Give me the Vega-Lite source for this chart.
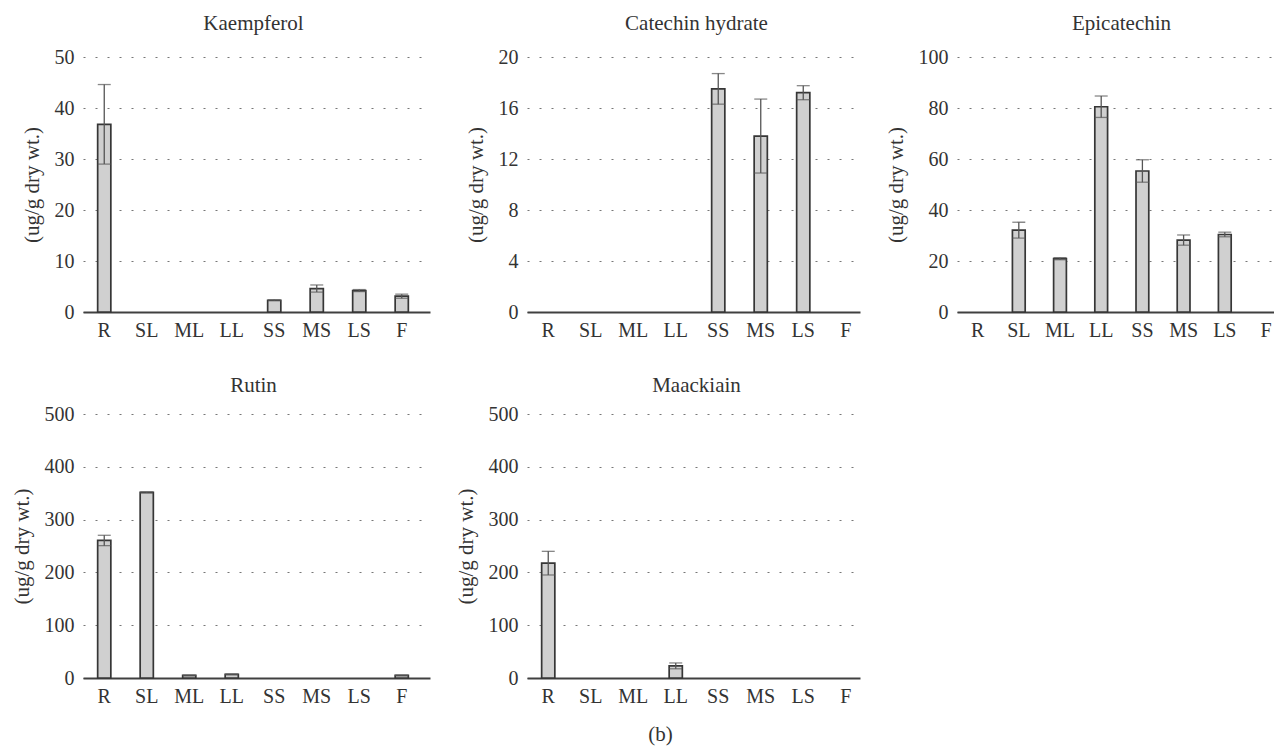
{
  "$schema": "https://vega.github.io/schema/vega-lite/v6.json",
  "autosize": {"type": "none"},
  "padding": {"left": 83, "top": 57, "right": 1191, "bottom": 690},
  "background": "white",
  "datasets": {
    "d": [
      {"compound": "Kaempferol", "tissue": "R", "value": 36.8, "err": 7.8},
      {"compound": "Kaempferol", "tissue": "SL", "value": 0, "err": 0},
      {"compound": "Kaempferol", "tissue": "ML", "value": 0, "err": 0},
      {"compound": "Kaempferol", "tissue": "LL", "value": 0, "err": 0},
      {"compound": "Kaempferol", "tissue": "SS", "value": 2.3, "err": 0.1},
      {"compound": "Kaempferol", "tissue": "MS", "value": 4.6, "err": 0.7},
      {"compound": "Kaempferol", "tissue": "LS", "value": 4.2, "err": 0.2},
      {"compound": "Kaempferol", "tissue": "F", "value": 3.1, "err": 0.4},
      {"compound": "Catechin hydrate", "tissue": "R", "value": 0, "err": 0},
      {"compound": "Catechin hydrate", "tissue": "SL", "value": 0, "err": 0},
      {"compound": "Catechin hydrate", "tissue": "ML", "value": 0, "err": 0},
      {"compound": "Catechin hydrate", "tissue": "LL", "value": 0, "err": 0},
      {"compound": "Catechin hydrate", "tissue": "SS", "value": 17.5, "err": 1.2},
      {"compound": "Catechin hydrate", "tissue": "MS", "value": 13.8, "err": 2.9},
      {"compound": "Catechin hydrate", "tissue": "LS", "value": 17.2, "err": 0.55},
      {"compound": "Catechin hydrate", "tissue": "F", "value": 0, "err": 0},
      {"compound": "Epicatechin", "tissue": "R", "value": 0, "err": 0},
      {"compound": "Epicatechin", "tissue": "SL", "value": 32.1, "err": 3.1},
      {"compound": "Epicatechin", "tissue": "ML", "value": 20.9, "err": 0.4},
      {"compound": "Epicatechin", "tissue": "LL", "value": 80.5, "err": 4.2},
      {"compound": "Epicatechin", "tissue": "SS", "value": 55.3, "err": 4.4},
      {"compound": "Epicatechin", "tissue": "MS", "value": 28.2, "err": 2.0},
      {"compound": "Epicatechin", "tissue": "LS", "value": 30.4, "err": 0.9},
      {"compound": "Epicatechin", "tissue": "F", "value": 0, "err": 0},
      {"compound": "Rutin", "tissue": "R", "value": 260.5, "err": 9.8},
      {"compound": "Rutin", "tissue": "SL", "value": 351.5, "err": 1},
      {"compound": "Rutin", "tissue": "ML", "value": 5, "err": 0.5},
      {"compound": "Rutin", "tissue": "LL", "value": 7, "err": 0.5},
      {"compound": "Rutin", "tissue": "SS", "value": 0, "err": 0},
      {"compound": "Rutin", "tissue": "MS", "value": 0, "err": 0},
      {"compound": "Rutin", "tissue": "LS", "value": 0, "err": 0},
      {"compound": "Rutin", "tissue": "F", "value": 5, "err": 0.5},
      {"compound": "Maackiain", "tissue": "R", "value": 217.5, "err": 22.4},
      {"compound": "Maackiain", "tissue": "SL", "value": 0, "err": 0},
      {"compound": "Maackiain", "tissue": "ML", "value": 0, "err": 0},
      {"compound": "Maackiain", "tissue": "LL", "value": 23, "err": 5.5},
      {"compound": "Maackiain", "tissue": "SS", "value": 0, "err": 0},
      {"compound": "Maackiain", "tissue": "MS", "value": 0, "err": 0},
      {"compound": "Maackiain", "tissue": "LS", "value": 0, "err": 0},
      {"compound": "Maackiain", "tissue": "F", "value": 0, "err": 0}
    ]
  },
  "columns": 3,
  "align": "none",
  "bounds": "flush",
  "spacing": {"row": 102, "column": 97},
  "concat": [
    {
      "title": {"text": "Kaempferol", "offset": 13, "dx": -3},
      "width": 347, "height": 255,
      "data": {"name": "d"},
      "transform": [{"filter": "datum.compound == 'Kaempferol'"}],
      "encoding": {
        "x": {"field": "tissue", "type": "nominal", "title": null,
              "scale": {"domain": ["R","SL","ML","LL","SS","MS","LS","F"], "paddingInner": 0.69, "paddingOuter": 0.4274, "align": 0.4036}}
      },
      "layer": [
        {"transform": [{"filter": "datum.value > 0"}],
         "mark": {"type": "bar", "fill": "#d0d0d0", "stroke": "#363636", "strokeWidth": 1.7},
         "encoding": {"y": {"field": "value", "type": "quantitative", "title": "(ug/g dry wt.)", "scale": {"domain": [0, 50]}, "axis": {"values": [0,10,20,30,40,50], "labelFont": "Liberation Serif", "titleFont": "Liberation Serif"}}}},
        {"transform": [{"filter": "datum.err > 0"}],
         "mark": {"type": "errorbar", "ticks": {"size": 13, "thickness": 1.3}, "color": "#555555", "thickness": 1.3},
         "encoding": {"y": {"field": "value", "type": "quantitative", "title": "(ug/g dry wt.)"}, "yError": {"field": "err"}}}
      ]
    },
    {
      "title": {"text": "Catechin hydrate", "offset": 13, "dx": 3},
      "width": 333, "height": 255,
      "data": {"name": "d"},
      "transform": [{"filter": "datum.compound == 'Catechin hydrate'"}],
      "encoding": {
        "x": {"field": "tissue", "type": "nominal", "title": null,
              "scale": {"domain": ["R","SL","ML","LL","SS","MS","LS","F"], "paddingInner": 0.69, "paddingOuter": 0.2626, "align": 0.6567}}
      },
      "layer": [
        {"transform": [{"filter": "datum.value > 0"}],
         "mark": {"type": "bar", "fill": "#d0d0d0", "stroke": "#363636", "strokeWidth": 1.7},
         "encoding": {"y": {"field": "value", "type": "quantitative", "title": "(ug/g dry wt.)", "scale": {"domain": [0, 20]}, "axis": {"values": [0,4,8,12,16,20], "labelFont": "Liberation Serif", "titleFont": "Liberation Serif"}}}},
        {"transform": [{"filter": "datum.err > 0"}],
         "mark": {"type": "errorbar", "ticks": {"size": 13, "thickness": 1.3}, "color": "#555555", "thickness": 1.3},
         "encoding": {"y": {"field": "value", "type": "quantitative", "title": "(ug/g dry wt.)"}, "yError": {"field": "err"}}}
      ]
    },
    {
      "title": {"text": "Epicatechin", "offset": 13, "dx": 6},
      "width": 317, "height": 255,
      "data": {"name": "d"},
      "transform": [{"filter": "datum.compound == 'Epicatechin'"}],
      "encoding": {
        "x": {"field": "tissue", "type": "nominal", "title": null,
              "scale": {"domain": ["R","SL","ML","LL","SS","MS","LS","F"], "paddingInner": 0.69, "paddingOuter": 0.1921, "align": 0.898}}
      },
      "layer": [
        {"transform": [{"filter": "datum.value > 0"}],
         "mark": {"type": "bar", "fill": "#d0d0d0", "stroke": "#363636", "strokeWidth": 1.7},
         "encoding": {"y": {"field": "value", "type": "quantitative", "title": "(ug/g dry wt.)", "scale": {"domain": [0, 100]}, "axis": {"values": [0,20,40,60,80,100], "labelFont": "Liberation Serif", "titleFont": "Liberation Serif"}}}},
        {"transform": [{"filter": "datum.err > 0"}],
         "mark": {"type": "errorbar", "ticks": {"size": 13, "thickness": 1.3}, "color": "#555555", "thickness": 1.3},
         "encoding": {"y": {"field": "value", "type": "quantitative", "title": "(ug/g dry wt.)"}, "yError": {"field": "err"}}}
      ]
    },
    {
      "title": {"text": "Rutin", "offset": 8, "dx": -3},
      "width": 347, "height": 264,
      "data": {"name": "d"},
      "transform": [{"filter": "datum.compound == 'Rutin'"}],
      "encoding": {
        "x": {"field": "tissue", "type": "nominal", "title": null,
              "scale": {"domain": ["R","SL","ML","LL","SS","MS","LS","F"], "paddingInner": 0.69, "paddingOuter": 0.4274, "align": 0.4036}}
      },
      "layer": [
        {"transform": [{"filter": "datum.value > 0"}],
         "mark": {"type": "bar", "fill": "#d0d0d0", "stroke": "#363636", "strokeWidth": 1.7},
         "encoding": {"y": {"field": "value", "type": "quantitative", "title": "(ug/g dry wt.)", "scale": {"domain": [0, 500]}, "axis": {"values": [0,100,200,300,400,500], "labelFont": "Liberation Serif", "titleFont": "Liberation Serif"}}}},
        {"transform": [{"filter": "datum.err > 0"}],
         "mark": {"type": "errorbar", "ticks": {"size": 13, "thickness": 1.3}, "color": "#555555", "thickness": 1.3},
         "encoding": {"y": {"field": "value", "type": "quantitative", "title": "(ug/g dry wt.)"}, "yError": {"field": "err"}}}
      ]
    },
    {
      "title": {"text": "Maackiain", "offset": 8, "dx": 3},
      "width": 333, "height": 264,
      "data": {"name": "d"},
      "transform": [{"filter": "datum.compound == 'Maackiain'"}],
      "encoding": {
        "x": {"field": "tissue", "type": "nominal", "title": "(b)",
              "scale": {"domain": ["R","SL","ML","LL","SS","MS","LS","F"], "paddingInner": 0.69, "paddingOuter": 0.2626, "align": 0.6567},
              "axis": {"titleX": 133, "titleY": 62, "titleBaseline": "alphabetic", "titleAlign": "center"}}
      },
      "layer": [
        {"transform": [{"filter": "datum.value > 0"}],
         "mark": {"type": "bar", "fill": "#d0d0d0", "stroke": "#363636", "strokeWidth": 1.7},
         "encoding": {"y": {"field": "value", "type": "quantitative", "title": "(ug/g dry wt.)", "scale": {"domain": [0, 500]}, "axis": {"values": [0,100,200,300,400,500], "labelFont": "Liberation Serif", "titleFont": "Liberation Serif"}}}},
        {"transform": [{"filter": "datum.err > 0"}],
         "mark": {"type": "errorbar", "ticks": {"size": 13, "thickness": 1.3}, "color": "#555555", "thickness": 1.3},
         "encoding": {"y": {"field": "value", "type": "quantitative", "title": "(ug/g dry wt.)"}, "yError": {"field": "err"}}}
      ]
    }
  ],
  "config": {
    "font": "Liberation Serif",
    "view": {"stroke": null},
    "axis": {"labelFont": "Liberation Serif", "titleFont": "Liberation Serif", "labelFontSize": 20, "labelColor": "#333333", "titleFontSize": 21, "titleFontWeight": "normal", "titleColor": "#333333", "ticks": false, "tickSize": 0},
    "axisY": {"labelFont": "Liberation Serif", "titleFont": "Liberation Serif", "domain": false, "grid": true, "gridDash": [2, 10], "gridColor": "#777777", "gridWidth": 1.2, "labelPadding": 9, "titlePadding": 12},
    "axisX": {"labelFont": "Liberation Serif", "titleFont": "Liberation Serif", "domain": true, "domainColor": "#404040", "domainWidth": 2, "grid": false, "labelAngle": 0, "labelPadding": 8},
    "title": {"font": "Liberation Serif", "fontSize": 21, "fontWeight": "normal", "color": "#333333", "frame": "group", "anchor": "middle", "baseline": "alphabetic"}
  }
}
